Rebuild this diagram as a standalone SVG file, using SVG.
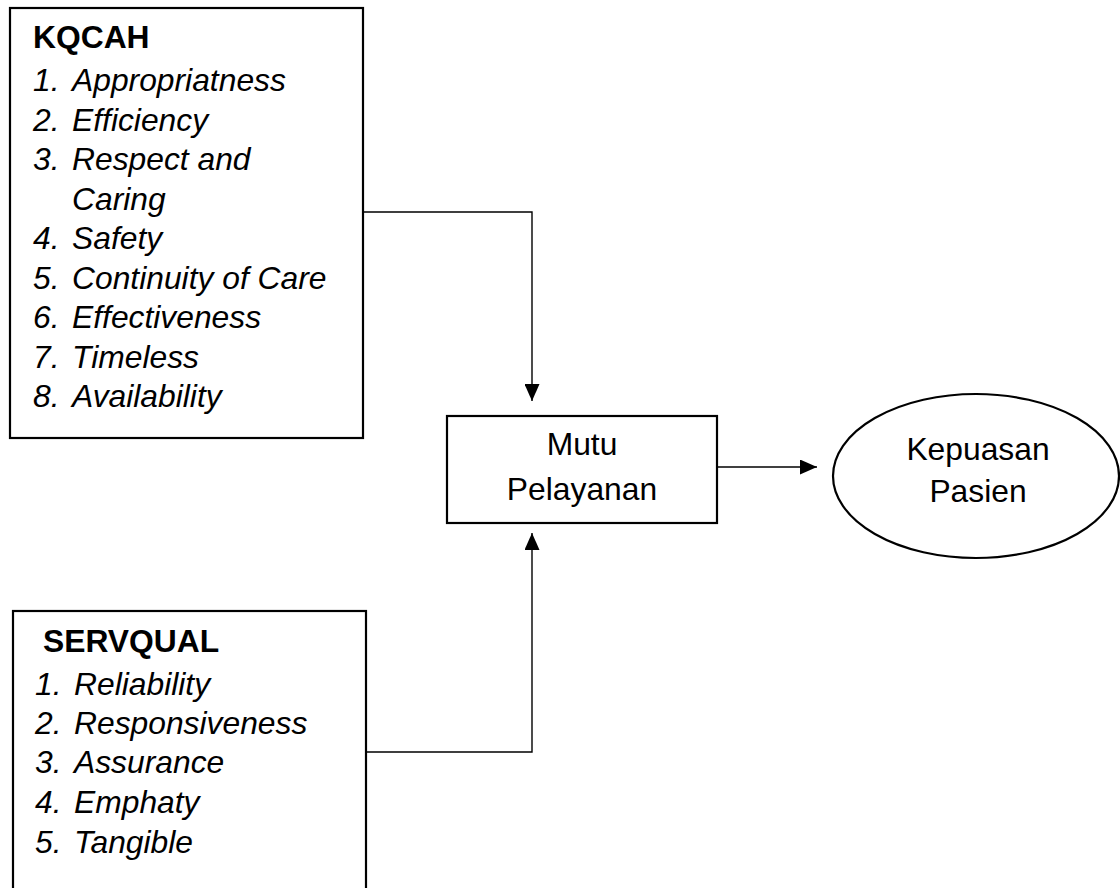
<svg xmlns="http://www.w3.org/2000/svg" width="1120" height="888" viewBox="0 0 1120 888">
<style>
.box{fill:#fff;stroke:#000;stroke-width:2.2}
.t{font-family:"Liberation Sans",Arial,sans-serif;font-size:31.8px;fill:#000}
.b{font-weight:bold}
.i{font-style:italic}
.c{text-anchor:middle}
.conn{fill:none;stroke:#000;stroke-width:1.4}
</style>
<defs>
<marker id="ah" viewBox="0 0 17 15" refX="17" refY="7.5" markerWidth="17" markerHeight="15" orient="auto" markerUnits="userSpaceOnUse">
<path d="M0,0 L17,7.5 L0,15 z" fill="#000"/>
</marker>
</defs>
<rect width="1120" height="888" fill="#fff"/>
<g id="connectors">
<path class="conn" d="M363,212 H532 V401" marker-end="url(#ah)"/>
<path class="conn" d="M366,752 H532 V533" marker-end="url(#ah)"/>
<path class="conn" d="M717,467 H817" marker-end="url(#ah)"/>
</g>
<g id="kqcah">
<rect class="box" x="10" y="8" width="353" height="430"/>
<text class="t b" x="33" y="48">KQCAH</text>
<g class="t i">
<text x="33" y="91">1.</text><text x="72" y="91">Appropriatness</text>
<text x="33" y="130.5">2.</text><text x="72" y="130.5">Efficiency</text>
<text x="33" y="170">3.</text><text x="72" y="170">Respect and</text>
<text x="72" y="209.5">Caring</text>
<text x="33" y="249">4.</text><text x="72" y="249">Safety</text>
<text x="33" y="288.5">5.</text><text x="72" y="288.5">Continuity of Care</text>
<text x="33" y="328">6.</text><text x="72" y="328">Effectiveness</text>
<text x="33" y="367.5">7.</text><text x="72" y="367.5">Timeless</text>
<text x="33" y="407">8.</text><text x="72" y="407">Availability</text>
</g>
</g>
<g id="servqual">
<rect class="box" x="13" y="611" width="353" height="300"/>
<text class="t b" x="43" y="652">SERVQUAL</text>
<g class="t i">
<text x="35" y="695">1.</text><text x="74" y="695">Reliability</text>
<text x="35" y="734">2.</text><text x="74" y="734">Responsiveness</text>
<text x="35" y="773">3.</text><text x="74" y="773">Assurance</text>
<text x="35" y="813">4.</text><text x="74" y="813">Emphaty</text>
<text x="35" y="853">5.</text><text x="74" y="853">Tangible</text>
</g>
</g>
<g id="mutu">
<rect class="box" x="447" y="416" width="270" height="107"/>
<text class="t c" x="582" y="455">Mutu</text>
<text class="t c" x="582" y="500">Pelayanan</text>
</g>
<g id="kepuasan">
<ellipse class="box" cx="976" cy="476" rx="143" ry="82"/>
<text class="t c" x="978" y="460">Kepuasan</text>
<text class="t c" x="978" y="502">Pasien</text>
</g>
</svg>
